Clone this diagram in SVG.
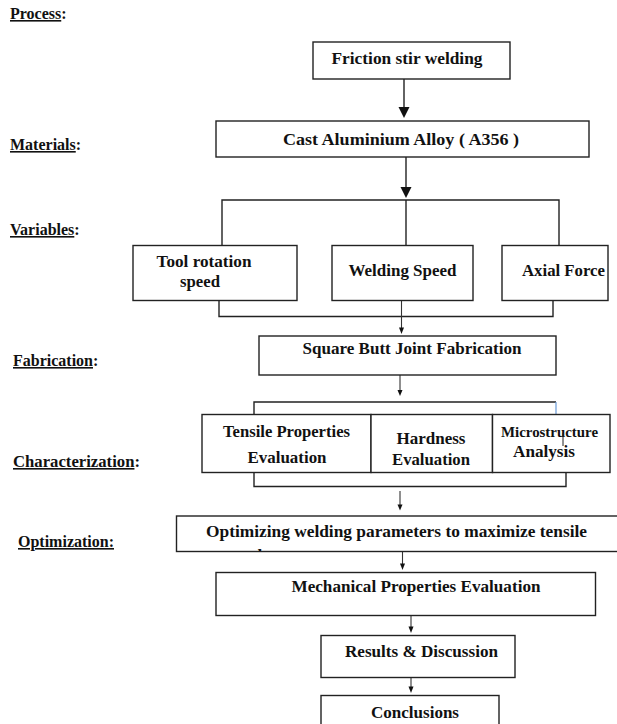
<svg xmlns="http://www.w3.org/2000/svg" width="617" height="724" viewBox="0 0 617 724">
<style>
.box{fill:#fff;stroke:#222;stroke-width:1.4}
.ln{fill:none;stroke:#222;stroke-width:1.4}
.lns{fill:none;stroke:#333;stroke-width:1.1}
.hd{fill:#111}
.t{font-family:"Liberation Serif","Times New Roman",serif;font-weight:bold;font-size:16px;fill:#111;text-anchor:middle}
.lab{font-family:"Liberation Serif","Times New Roman",serif;font-weight:bold;font-size:16px;fill:#111}
.u{text-decoration:underline}
</style>
<defs>
<clipPath id="optclip"><rect x="177" y="517" width="450" height="34"/></clipPath>
</defs>
<rect width="617" height="724" fill="#fff"/>

<g id="labels">
<text class="lab" x="10" y="19"><tspan class="u">Process</tspan>:</text>
<text class="lab" x="10" y="150"><tspan class="u">Materials</tspan>:</text>
<text class="lab" x="10" y="235"><tspan class="u">Variables</tspan>:</text>
<text class="lab" x="13" y="366"><tspan class="u">Fabrication</tspan>:</text>
<text class="lab" x="13" y="467" textLength="127" lengthAdjust="spacingAndGlyphs"><tspan class="u">Characterization</tspan>:</text>
<text class="lab u" x="18" y="547">Optimization:</text>
</g>

<g id="connectors">
<line class="ln" x1="404" y1="79" x2="404" y2="108"/>
<polygon class="hd" points="398.5,107 409.5,107 404,118"/>
<line class="ln" x1="406" y1="157" x2="406" y2="188"/>
<polygon class="hd" points="400.5,187 411.5,187 406,198"/>
<polyline class="ln" points="222,245.5 222,200 559,200 559,245.5"/>
<line class="ln" x1="406" y1="200" x2="406" y2="245.5"/>
<polyline class="ln" points="219,300.5 219,316.5 553,316.5 553,300.5"/>
<line class="lns" x1="401.5" y1="300.5" x2="401.5" y2="329"/>
<polygon class="hd" points="399,327.5 404,327.5 401.5,334"/>
<line class="lns" x1="400" y1="375" x2="400" y2="391"/>
<polygon class="hd" points="397.5,390 402.5,390 400,396"/>
<polyline class="ln" points="254,414.5 254,402 556,402"/>
<line stroke="#6a9bd8" stroke-width="1.2" x1="556" y1="402" x2="556" y2="414.5"/>
<polyline class="ln" points="254,472.5 254,486.5 566,486.5 566,472.5"/>
<line class="lns" x1="400" y1="491" x2="400" y2="505"/>
<polygon class="hd" points="397.5,504.5 402.5,504.5 400,510.5"/>
<line class="lns" x1="402.5" y1="552" x2="402.5" y2="564"/>
<polygon class="hd" points="400,563.5 405,563.5 402.5,570"/>
<line class="lns" x1="411" y1="615.5" x2="411" y2="627"/>
<polygon class="hd" points="408.5,626.5 413.5,626.5 411,633"/>
<line class="lns" x1="411" y1="677.5" x2="411" y2="687"/>
<polygon class="hd" points="408.5,686.5 413.5,686.5 411,693"/>
</g>

<g id="n-fsw">
<rect class="box" x="313" y="42" width="197" height="37"/>
<text class="t" x="407" y="64" textLength="151" lengthAdjust="spacingAndGlyphs">Friction  stir welding</text>
</g>

<g id="n-cast">
<rect class="box" x="216" y="121" width="373" height="36"/>
<text class="t" x="401" y="145" textLength="236" lengthAdjust="spacingAndGlyphs">Cast Aluminium Alloy  ( A356 )</text>
</g>

<g id="n-tool">
<rect class="box" x="133" y="245.5" width="164" height="55"/>
<text class="t" x="204" y="267" textLength="95" lengthAdjust="spacingAndGlyphs">Tool rotation</text>
<text class="t" x="200" y="287" textLength="40" lengthAdjust="spacingAndGlyphs">speed</text>
</g>

<g id="n-weld">
<rect class="box" x="332" y="245.5" width="141" height="55"/>
<text class="t" x="402.5" y="276" textLength="108" lengthAdjust="spacingAndGlyphs">Welding Speed</text>
</g>

<g id="n-axial">
<rect class="box" x="502" y="245.5" width="106" height="55"/>
<text class="t" x="563.5" y="276" textLength="83" lengthAdjust="spacingAndGlyphs">Axial Force</text>
</g>

<g id="n-square">
<rect class="box" x="259" y="336" width="297" height="39"/>
<text class="t" x="412" y="354" textLength="219" lengthAdjust="spacingAndGlyphs">Square Butt Joint Fabrication</text>
</g>

<g id="n-tensile">
<rect class="box" x="202" y="414.5" width="169" height="58"/>
<text class="t" x="286.5" y="437" textLength="127" lengthAdjust="spacingAndGlyphs">Tensile Properties</text>
<text class="t" x="287" y="463" textLength="79" lengthAdjust="spacingAndGlyphs">Evaluation</text>
</g>

<g id="n-hardness">
<rect class="box" x="371" y="414.5" width="121.5" height="58"/>
<text class="t" x="431" y="444" textLength="69" lengthAdjust="spacingAndGlyphs">Hardness</text>
<text class="t" x="431" y="465" textLength="78" lengthAdjust="spacingAndGlyphs">Evaluation</text>
</g>

<g id="n-micro">
<rect class="box" x="492.5" y="414.5" width="117.5" height="58"/>
<text class="t" x="549.5" y="437" style="font-size:14px" textLength="97" lengthAdjust="spacingAndGlyphs">Microstructure</text>
<text class="t" x="544" y="457" textLength="62" lengthAdjust="spacingAndGlyphs">Analysis</text>
<line stroke="#222" stroke-width="1" x1="563" y1="433" x2="563" y2="446"/>
</g>

<g id="n-opt">
<rect class="box" x="176.5" y="516" width="460" height="35.5"/>
<text class="t" x="396.5" y="537" textLength="381" lengthAdjust="spacingAndGlyphs">Optimizing welding parameters to maximize tensile</text>
<g clip-path="url(#optclip)">
<text class="t" x="237" y="561" textLength="60" lengthAdjust="spacingAndGlyphs">strength</text>
</g>
</g>

<g id="n-mech">
<rect class="box" x="216" y="572.5" width="379.5" height="43"/>
<text class="t" x="416" y="592" textLength="249" lengthAdjust="spacingAndGlyphs">Mechanical Properties Evaluation</text>
</g>

<g id="n-results">
<rect class="box" x="321" y="635.5" width="194" height="42"/>
<text class="t" x="421.5" y="657" textLength="153" lengthAdjust="spacingAndGlyphs">Results &amp; Discussion</text>
</g>

<g id="n-concl">
<rect class="box" x="321" y="695.5" width="178" height="40"/>
<text class="t" x="415" y="718" textLength="88" lengthAdjust="spacingAndGlyphs">Conclusions</text>
</g>
</svg>
